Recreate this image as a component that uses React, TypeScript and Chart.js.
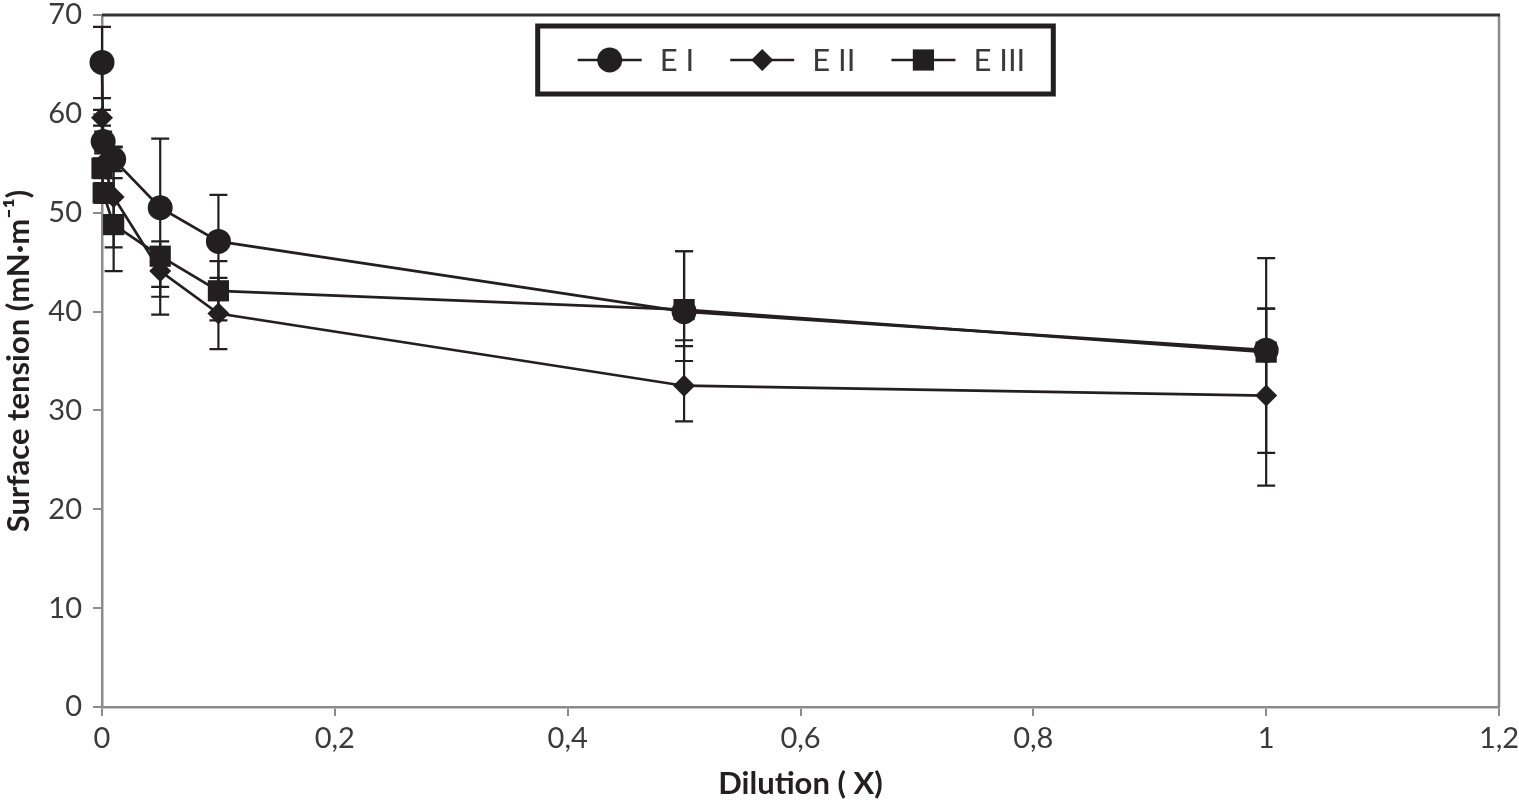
import React, { useEffect, useRef } from "react";
import { Chart, registerables } from "chart.js";
import { drawPoint } from "chart.js/helpers";

Chart.register(...registerables);

// dilution levels (x) shared by all three series
const dilution = [0, 0.001, 0.01, 0.05, 0.1, 0.5, 1];

const seriesNames = ["E I", "E II", "E III"];

// surface tension, mN·m-1
const tensionEI = [65.2, 57.2, 55.4, 50.5, 47.1, 40.0, 36.1];
const tensionEII = [59.6, 55.0, 51.6, 44.1, 39.8, 32.5, 31.5];
const tensionEIII = [54.5, 52.0, 48.8, 45.6, 42.1, 40.2, 35.9];

// error bars (plus / minus)
const errUpEI = [3.6, 1.0, 1.2, 7.0, 4.7, 6.1, 9.3];
const errDownEI = [3.6, 1.0, 1.2, 9.0, 4.7, 5.0, 10.4];
const errUpEII = [0.8, 1.0, 5.1, 2.0, 3.6, 4.0, 8.8];
const errDownEII = [0.8, 1.0, 5.1, 4.4, 3.6, 3.6, 9.1];
const errUpEIII = [1.0, 1.0, 4.7, 1.5, 3.0, 5.9, 4.4];
const errDownEIII = [1.0, 1.0, 4.7, 3.1, 3.0, 3.1, 4.4];

const xTicks = [0, 0.2, 0.4, 0.6, 0.8, 1, 1.2];
const xTickLabels = ["0", "0,2", "0,4", "0,6", "0,8", "1", "1,2"];
const yTicks = [0, 10, 20, 30, 40, 50, 60, 70];
const yTickLabels = ["0", "10", "20", "30", "40", "50", "60", "70"];

const INK = "#231f20";
const AXIS = "#8b8b8b";
const LABEL = "#3a3a3a";
const FONT = "Lato, 'Open Sans', sans-serif";

const tensions = [tensionEI, tensionEII, tensionEIII];
const errUps = [errUpEI, errUpEII, errUpEIII];
const errDowns = [errDownEI, errDownEII, errDownEIII];
const pointStyles = ["circle", "rectRot", "rect"];
const pointRadii = [12.5, 11, 15];

const errorBarPlugin = {
  id: "errorBars",
  beforeDatasetsDraw(chart: any) {
    const { ctx } = chart;
    const x = chart.scales.x;
    const y = chart.scales.y;
    ctx.save();
    ctx.strokeStyle = INK;
    ctx.lineWidth = 2.2;
    tensions.forEach((vals, i) => {
      dilution.forEach((d, j) => {
        const px = x.getPixelForValue(d);
        const top = y.getPixelForValue(vals[j] + errUps[i][j]);
        const bot = y.getPixelForValue(vals[j] - errDowns[i][j]);
        ctx.beginPath();
        ctx.moveTo(px, top);
        ctx.lineTo(px, bot);
        ctx.moveTo(px - 9, top);
        ctx.lineTo(px + 9, top);
        ctx.moveTo(px - 9, bot);
        ctx.lineTo(px + 9, bot);
        ctx.stroke();
      });
    });
    ctx.restore();
  },
};

// top + right edges of the plot box
const framePlugin = {
  id: "frame",
  beforeDatasetsDraw(chart: any) {
    const { ctx, chartArea: a } = chart;
    ctx.save();
    ctx.lineWidth = 2.5;
    ctx.strokeStyle = AXIS;
    ctx.beginPath();
    ctx.moveTo(a.right, a.top);
    ctx.lineTo(a.right, a.bottom);
    ctx.stroke();
    ctx.strokeStyle = "#333";
    ctx.lineWidth = 3;
    ctx.beginPath();
    ctx.moveTo(a.left, a.top);
    ctx.lineTo(a.right + 1, a.top);
    ctx.stroke();
    ctx.restore();
  },
};

// boxed legend inside the plot, line-marker-line symbols
const boxLegendPlugin = {
  id: "boxLegend",
  afterDraw(chart: any) {
    const { ctx, chartArea: a } = chart;
    ctx.save();
    ctx.font = `31px ${FONT}`;
    const symW = 64, gap = 18, itemGap = 36, padL = 40, padR = 28, h = 68;
    const widths = seriesNames.map((n) => ctx.measureText(n).width);
    const total =
      padL + padR + widths.reduce((s, w) => s + symW + gap + w, 0) + itemGap * (seriesNames.length - 1);
    const left = (a.left + a.right) / 2 - total / 2 - 5;
    const top = a.top + 11;
    ctx.fillStyle = "#fff";
    ctx.fillRect(left, top, total, h);
    ctx.lineWidth = 5;
    ctx.strokeStyle = INK;
    ctx.strokeRect(left, top, total, h);
    const cy = top + h / 2;
    let cx = left + padL;
    seriesNames.forEach((name, i) => {
      ctx.strokeStyle = INK;
      ctx.lineWidth = 2.5;
      ctx.beginPath();
      ctx.moveTo(cx, cy);
      ctx.lineTo(cx + symW, cy);
      ctx.stroke();
      ctx.fillStyle = INK;
      drawPoint(ctx, { pointStyle: pointStyles[i], radius: pointRadii[i], rotation: 0, borderWidth: 0 } as any, cx + symW / 2, cy);
      ctx.fillStyle = LABEL;
      ctx.textBaseline = "middle";
      ctx.textAlign = "left";
      ctx.fillText(name, cx + symW + gap, cy + 1);
      cx += symW + gap + widths[i] + itemGap;
    });
    ctx.restore();
  },
};

export default function App() {
  const canvasRef = useRef<HTMLCanvasElement | null>(null);

  useEffect(() => {
    document.body.style.margin = "0";
    if (!canvasRef.current) return;

    const datasets = seriesNames.map((name, i) => ({
      label: name,
      data: dilution.map((d, j) => ({ x: d, y: tensions[i][j] })),
      showLine: true,
      borderColor: INK,
      backgroundColor: INK,
      borderWidth: 2.7,
      tension: 0,
      pointStyle: pointStyles[i],
      pointRadius: pointRadii[i],
      pointBorderWidth: 0,
      clip: false as any,
    }));

    const chart = new Chart(canvasRef.current, {
      type: "scatter",
      data: { datasets },
      options: {
        animation: false,
        responsive: true,
        maintainAspectRatio: false,
        layout: { padding: { top: 9, right: 20, left: 0, bottom: 0 } },
        plugins: {
          legend: { display: false },
          tooltip: { enabled: false },
        },
        scales: {
          x: {
            type: "linear",
            min: 0,
            max: 1.2,
            afterBuildTicks: (s: any) => {
              s.ticks = xTicks.map((v) => ({ value: v }));
            },
            afterFit: (s: any) => {
              s.height = 96;
              s.paddingLeft = 0;
              s.paddingRight = 0;
            },
            ticks: {
              callback: (_v: any, i: number) => xTickLabels[i],
              color: LABEL,
              font: { family: FONT, size: 29 },
              padding: 5,
              maxRotation: 0,
            },
            grid: { drawOnChartArea: false, color: AXIS, lineWidth: 2, tickLength: 9 },
            border: { color: AXIS, width: 2.5 },
            title: {
              display: true,
              text: "Dilution ( X)",
              color: INK,
              font: { family: FONT, size: 31, weight: "bold" },
              padding: { top: 0, bottom: 0 },
            },
          },
          y: {
            type: "linear",
            min: 0,
            max: 70,
            afterBuildTicks: (s: any) => {
              s.ticks = yTicks.map((v) => ({ value: v }));
            },
            afterFit: (s: any) => {
              s.width = 102;
              s.paddingTop = 0;
              s.paddingBottom = 0;
            },
            ticks: {
              callback: (_v: any, i: number) => yTickLabels[i],
              color: LABEL,
              font: { family: FONT, size: 29 },
              padding: 11,
            },
            grid: { drawOnChartArea: false, color: AXIS, lineWidth: 2, tickLength: 9 },
            border: { color: AXIS, width: 2.5 },
            title: {
              display: true,
              text: "Surface tension (mN·m⁻¹)",
              color: INK,
              font: { family: FONT, size: 31, weight: "bold" },
              padding: { top: 0, bottom: 0 },
            },
          },
        },
      },
      plugins: [framePlugin, errorBarPlugin, boxLegendPlugin],
    });

    return () => chart.destroy();
  }, []);

  return (
    <div style={{ width: 1519, height: 803, position: "relative", background: "#fff" }}>
      <canvas ref={canvasRef} />
    </div>
  );
}
